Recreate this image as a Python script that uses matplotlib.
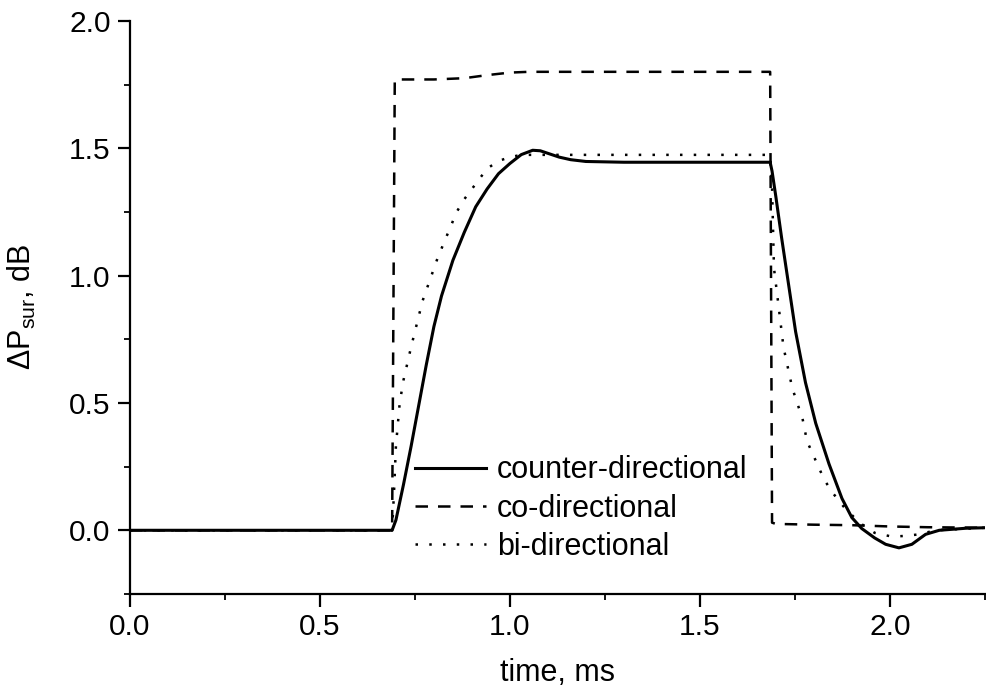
#!/usr/bin/env python3
import matplotlib
matplotlib.use('Agg')
import matplotlib.pyplot as plt
from matplotlib.ticker import MultipleLocator

plt.rcParams['font.family'] = ['Liberation Sans', 'DejaVu Sans']
plt.rcParams['mathtext.default'] = 'regular'

# counter-directional (solid)
t_counter = [0.0, 0.69, 0.70, 0.72, 0.74, 0.76, 0.78, 0.80, 0.82, 0.85, 0.88,
             0.91, 0.94, 0.97, 1.00, 1.03, 1.06, 1.08, 1.10, 1.13, 1.16, 1.20,
             1.30, 1.685, 1.69, 1.70, 1.715, 1.73, 1.752, 1.778, 1.805, 1.84,
             1.874, 1.90, 1.926, 1.96, 1.989, 2.024, 2.058, 2.094, 2.13, 2.20,
             2.25]
p_counter = [0.0, 0.0, 0.04, 0.18, 0.33, 0.49, 0.65, 0.80, 0.92, 1.06, 1.17,
             1.27, 1.34, 1.40, 1.44, 1.475, 1.492, 1.49, 1.48, 1.465, 1.455, 1.448,
             1.445, 1.445, 1.41, 1.31, 1.15, 1.00, 0.78, 0.58, 0.42, 0.26,
             0.125, 0.05, 0.007, -0.03, -0.055, -0.069, -0.055, -0.016, 0.0, 0.008,
             0.01]

# co-directional (dashed)
t_co = [0.0, 0.69, 0.697, 0.75, 0.80, 0.88, 0.94, 1.00, 1.05, 1.685, 1.69,
        1.70, 1.80, 1.90, 2.00, 2.10, 2.25]
p_co = [0.0, 0.0, 1.77, 1.77, 1.77, 1.775, 1.787, 1.797, 1.80, 1.80, 0.03,
        0.025, 0.022, 0.02, 0.015, 0.012, 0.01]

# bi-directional (dotted)
t_bi = [0.0, 0.69, 0.695, 0.70, 0.71, 0.72, 0.74, 0.77, 0.81, 0.86, 0.88,
        0.90, 0.94, 0.97, 1.00, 1.03, 1.685, 1.69, 1.695, 1.708, 1.72, 1.73,
        1.743, 1.756, 1.77, 1.782, 1.80, 1.827, 1.848, 1.88, 1.92, 1.96,
        2.006, 2.04, 2.077, 2.12, 2.25]
p_bi = [0.0, 0.0, 0.15, 0.33, 0.50, 0.59, 0.72, 0.90, 1.07, 1.25, 1.30,
        1.34, 1.42, 1.45, 1.465, 1.474, 1.474, 1.35, 1.03, 0.87, 0.72, 0.65,
        0.56, 0.50, 0.44, 0.35, 0.29, 0.20, 0.15, 0.09, 0.03, -0.01,
        -0.025, -0.022, -0.016, 0.0, 0.01]

fig = plt.figure(figsize=(9.86, 6.96), dpi=100)
ax = fig.add_axes([0.1318, 0.1466, 0.867, 0.8234])

ax.plot(t_counter, p_counter, '-', color='black', linewidth=2.2,
        label='counter-directional')
ax.plot(t_co, p_co, color='black', linewidth=1.8, dashes=(5, 4),
        label='co-directional')
ax.plot(t_bi, p_bi, color='black', linewidth=1.8, dashes=(1, 4.5),
        label='bi-directional')

ax.set_xlim(0.0, 2.25)
ax.set_ylim(-0.25, 2.0)
ax.xaxis.set_minor_locator(MultipleLocator(0.25))
ax.yaxis.set_minor_locator(MultipleLocator(0.25))
ax.set_yticks([0.0, 0.5, 1.0, 1.5, 2.0])
ax.set_xticks([0.0, 0.5, 1.0, 1.5, 2.0])
ax.tick_params(which='major', direction='out', length=9, width=1.6,
               labelsize=21.5, pad=5)
ax.tick_params(which='minor', direction='out', length=4.5, width=1.3)

for side in ['top', 'right']:
    ax.spines[side].set_visible(False)
for side in ['left', 'bottom']:
    ax.spines[side].set_linewidth(1.6)

ax.set_xlabel('time, ms', fontsize=22, labelpad=12)
ax.set_ylabel(r'$\Delta P_{sur}$, dB', fontsize=22, labelpad=22)

ax.legend(loc='lower left', bbox_to_anchor=(0.333, 0.056), frameon=False,
          fontsize=22, handlelength=2.35, handletextpad=0.35, labelspacing=0.27,
          borderaxespad=0, borderpad=0)

plt.savefig('out.png', dpi=100)
